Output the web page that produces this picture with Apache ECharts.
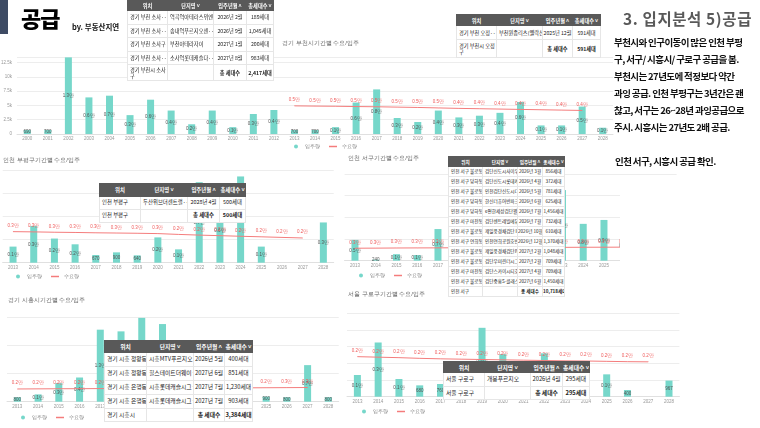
<!DOCTYPE html>
<html>
<head>
<meta charset="utf-8">
<title>공급</title>
<script src="https://cdn.jsdelivr.net/npm/echarts@6/dist/echarts.min.js"></script>
<style>
  body { margin: 0; width: 760px; height: 428px; overflow: hidden; background: #fff; position: relative;
         font-family: "Noto Sans CJK KR", sans-serif; }
  #chart { position: absolute; left: 0; top: 0; width: 760px; height: 428px; }
  .abs { position: absolute; white-space: nowrap; }
  table.t { position: absolute; border-collapse: collapse; table-layout: fixed; background: #fff; color: #222; }
  table.t th { background: #595959; color: #fff; font-weight: bold; padding: 0; text-align: center;
               border: 1px solid #595959; white-space: nowrap; overflow: hidden; }
  table.t td { border: 1px solid #e6e6e6; padding: 0 0 0 2px; white-space: nowrap; overflow: hidden; line-height: 1.1; }
  table.t td.c { text-align: center; padding: 0; }
  table.t tr.tot td.b { font-weight: bold; }
  table.t tr.tot td.w { white-space: normal; }
  .line { position: absolute; left: 614px; font-size: 9.5px; font-weight: bold; color: #111; letter-spacing: -0.6px; white-space: nowrap; }
</style>
</head>
<body>
<div id="chart"></div>

<div class="abs" style="left:0;top:0;width:8px;height:34px;background:#3e4b64;"></div>
<div class="abs" style="left:21px;top:2px;font-size:22px;font-weight:900;line-height:30px;letter-spacing:-1px;color:#000;">공급</div>
<div class="abs" style="left:72px;top:22px;font-size:7.5px;font-weight:bold;line-height:10px;color:#111;">by. 부동산지연</div>

<div class="abs" style="left:620px;top:175px;width:140px;height:118px;background:#fff;"></div>
<div class="abs" style="right:8px;top:7px;font-size:15.5px;font-weight:bold;line-height:22px;letter-spacing:0.6px;color:#595959;">3. 입지분석 5)공급</div>
<div class="line" style="top:35px;">부천시와 인구이동이 많은 인천 부평</div>
<div class="line" style="top:52px;">구, 서구/ 시흥시/ 구로구 공급을 봄.</div>
<div class="line" style="top:69px;">부천시는 27년도에 적정보다 약간</div>
<div class="line" style="top:86px;">과잉 공급. 인천 부평구는 3년간은 괜</div>
<div class="line" style="top:103px;">찮고, 서구는 26~28년 과잉공급으로</div>
<div class="line" style="top:120px;">주시. 시흥시는 27년도 2배 공급.</div>
<div class="line" style="top:154px;left:615px;">인천 서구, 시흥시 공급 확인.</div>

<script type="text/javascript">
// 연도 (x축)
var yearsLong = ['2000','2001','2002','2003','2004','2005','2006','2007','2008','2009','2010','2011','2012','2013','2014',
                 '2015','2016','2017','2018','2019','2020','2021','2022','2023','2024','2025','2026','2027','2028'];
var yearsShort = ['2013','2014','2015','2016','2017','2018','2019','2020','2021','2022','2023','2024','2025','2026','2027','2028'];

// 경기 부천시 입주량 / 수요량 (세대)
var bucheonSupply = [690, 700, 13400, 6400, 6700, 3300, 6000, 4100, 1700, 4100, 1200, 3500, 4200, 700, 700,
                     1200, 5500, 7800, 2800, 2100, 4100, 2900, 3200, 3700, 5600, 1500, 1500, 4800, 1100];
var bucheonDemand = [null, null, null, null, null, null, null, null, null, null, null, null, null, 4920, 4880,
                     4850, 4800, 4760, 4700, 4640, 4560, 4480, 4420, 4360, 4300, 4240, 4180, 4120, null];

// 인천 부평구
var bupyeongSupply = [1400, 3200, 2100, 1600, 670, 900, 640, 2200, 1160, 7000, 5500, 7500, 1400, 0, 0, 3500];
var bupyeongDemand = [2700, 2680, 2650, 2630, 2600, 2580, 2560, 2530, 2460, 2400, 2350, 2300, 2250, 2200, 2150, null];

// 인천 서구
var seoguSupply = [4800, 240, 1500, 1300, 7300, 3000, 2500, 5000, 9000, 11000, 16300, 8500, 9400, 6800, 3900, 2000];
var seoguDemand = [2880, 2900, 2930, 2950, 2960, 2990, 3010, 3020, 3050, 3060, 3080, 3100, 3110, 3130, 3150, null];

// 경기 시흥시
var siheungSupply = [800, 1300, 3300, 4300, 12800, 12500, 14900, 13800, 5000, 3000, 2000, 3000, 900, 800, 6500, 800];
var siheungDemand = [2260, 2280, 2300, 2310, 2330, 2350, 2370, 2390, 2400, 2420, 2440, 2460, 2480, 2500, 2520, null];

// 서울 구로구
var guroSupply = [1300, 3250, 1060, 680, 760, 1000, 4130, 2550, 600, 2600, 300, 0, 1340, 400, 0, 967];
var guroDemand = [2400, 2370, 2340, 2300, 2270, 2250, 2230, 2210, 2190, 2170, 2150, 2140, 2120, 2100, 2090, null];

// 분양 단지 표
var tableHead = ['위치', '단지명 ˅', '입주년월 ˄', '총세대수 ˅'];
var sosaRows = [
  ['경기 부천 소사···', '역곡역아테라스위엔', '2026년 2월', '189세대'],
  ['경기 부천 소사···', '송내역푸르지오센···', '2026년 9월', '1,045세대'],
  ['경기 부천 소사구', '부천아테라자이', '2027년 1월', '200세대'],
  ['경기 부천 소사···', '소사역롯데캐슬다···', '2027년 8월', '983세대'],
  ['경기 부천시 소사구', '', '총 세대수', '2,417세대']
];
var ojeongRows = [
  ['경기 부천 오정···', '부천원종리츠(웰락신···', '2025년 12월', '591세대'],
  ['경기 부천시 오정구', '', '총 세대수', '591세대']
];
var bupyeongRows = [
  ['인천 부평구', '두산위브더센트럴···', '2028년 4월', '500세대'],
  ['인천 부평구', '', '총 세대수', '500세대']
];
var seoguRows = [
  ['인천 서구 불로동', '검단신도시사이우···', '2026년 3월', '856세대'],
  ['인천 서구 당하동', '검단신도시롯데캐···', '2026년 4월', '372세대'],
  ['인천 서구 불로동', '인천검단신도시디···', '2026년 5월', '781세대'],
  ['인천 서구 당하동', '한신더휴어반파크', '2026년 6월', '625세대'],
  ['인천 서구 당하동', 'e편한세상검단웰카···', '2026년 7월', '1,456세대'],
  ['인천 서구 마전동', '검단센트레빌에듀시···', '2026년 7월', '732세대'],
  ['인천 서구 불로동', '제일풍경채검단Ⅱ', '2026년 10월', '610세대'],
  ['인천 서구 연희동', '인천연희공원호반···', '2026년 12월', '1,370세대'],
  ['인천 서구 불로동', '제일풍경채검단Ⅳ', '2027년 2월', '1,048세대'],
  ['인천 서구 불로동', '검단우미린더시그···', '2027년 2월', '709세대'],
  ['인천 서구 마전동', '검단스카이시티호···', '2027년 4월', '709세대'],
  ['인천 서구 불로동', '검단중흥S-클래스···', '2027년 6월', '1,450세대'],
  ['인천 서구', '', '총 세대수', '10,718세대']
];
var siheungRows = [
  ['경기 시흥 정왕동', '시흥MTV푸르지오···', '2026년 5월', '400세대'],
  ['경기 시흥 정왕동', '힐스테이트더웨이···', '2027년 6월', '851세대'],
  ['경기 시흥 은행동', '시흥롯데캐슬시그···', '2027년 7월', '1,230세대'],
  ['경기 시흥 은행동', '시흥롯데캐슬시그···', '2027년 7월', '903세대'],
  ['경기 시흥시', '', '총 세대수', '3,384세대']
];
var guroRows = [
  ['서울 구로구', '개봉푸르지오', '2026년 4월', '295세대'],
  ['서울 구로구', '', '총 세대수', '295세대']
];

function makeTable(rows, box) {
  var t = document.createElement('table');
  t.className = 't';
  t.style.left = box.left + 'px';
  t.style.top = box.top + 'px';
  t.style.fontSize = box.fs + 'px';
  var total = 0;
  box.widths.forEach(function (w) { total += w; });
  t.style.width = total + 'px';
  var html = '<colgroup>' + box.widths.map(function (w) { return '<col style="width:' + w + 'px">'; }).join('') + '</colgroup>';
  html += '<tr style="height:' + box.headH + 'px">' + tableHead.map(function (h) { return '<th>' + h + '</th>'; }).join('') + '</tr>';
  rows.forEach(function (r, i) {
    var last = i === rows.length - 1;
    var h = last ? box.lastH : box.rowH;
    html += '<tr class="' + (last ? 'tot' : '') + '" style="height:' + h + 'px">' +
      '<td class="w">' + r[0] + '</td><td>' + r[1] + '</td><td class="c b">' + r[2] + '</td><td class="c b">' + r[3] + '</td></tr>';
  });
  t.innerHTML = html;
  document.body.appendChild(t);
}

makeTable(sosaRows, { left: 127, top: 0, widths: [40, 46, 33, 27], headH: 10, rowH: 13.5, lastH: 16, fs: 5.2 });
makeTable(ojeongRows, { left: 456, top: 14, widths: [40, 46, 30, 28], headH: 11, rowH: 14, lastH: 18, fs: 5.2 });
makeTable(bupyeongRows, { left: 99, top: 183, widths: [41, 47, 32, 26], headH: 13, rowH: 13, lastH: 13, fs: 5.4 });
makeTable(seoguRows, { left: 448, top: 156, widths: [34, 35, 25, 22], headH: 10, rowH: 10, lastH: 10, fs: 4.6 });
makeTable(siheungRows, { left: 104, top: 340, widths: [42, 47, 31, 28], headH: 12, rowH: 14, lastH: 13, fs: 5.8 });
makeTable(guroRows, { left: 443, top: 361, widths: [41, 46, 32, 27], headH: 11, rowH: 14, lastH: 13, fs: 5.8 });

// 차트
var panels = [
  { title: '경기 부천시기간별 수요/입주', years: yearsLong, supply: bucheonSupply, demand: bucheonDemand,
    grid: [17, 56.8, 596, 77.2], titlePos: [282, 40], legendPos: [294, 144], max: 13500, step: 2500, showY: true },
  { title: '인천 부평구기간별 수요/입주', years: yearsShort, supply: bupyeongSupply, demand: bupyeongDemand,
    grid: [2.7, 170.7, 331, 92], titlePos: [3, 157], legendPos: [16, 274], max: 8000, step: 2000 },
  { title: '인천 서구기간별 수요/입주', years: yearsShort, supply: seoguSupply, demand: seoguDemand,
    grid: [344.6, 174, 332, 86.7], titlePos: [348, 155.5], legendPos: [359, 273], max: 20000, step: 5000 },
  { title: '경기 시흥시기간별 수요/입주', years: yearsShort, supply: siheungSupply, demand: siheungDemand,
    grid: [7, 317.3, 331.7, 84.4], titlePos: [8, 297], legendPos: [21, 415], max: 15000, step: 5000 },
  { title: '서울 구로구기간별 수요/입주', years: yearsShort, supply: guroSupply, demand: guroDemand,
    grid: [347, 313.3, 332.4, 83.4], titlePos: [348, 291.5], legendPos: [362, 409], max: 5000, step: 1000 }
];

function supplyLabel(p) {
  var v = p.value;
  if (!v) return '';
  return v >= 1000 ? (v / 10000).toFixed(1) + '만' : String(v);
}
function demandLabel(p) {
  return (p.value / 10000).toFixed(1) + '만';
}

var option = { animation: false, title: [], grid: [], xAxis: [], yAxis: [], legend: [], series: [] };

panels.forEach(function (p, i) {
  option.title.push({
    text: p.title, left: p.titlePos[0], top: p.titlePos[1], padding: 0,
    textStyle: { fontSize: 6, fontWeight: 'normal', color: '#666' }
  });
  option.grid.push({ left: p.grid[0], top: p.grid[1], width: p.grid[2], height: p.grid[3], outerBoundsMode: 'none' });
  option.xAxis.push({
    type: 'category', gridIndex: i, data: p.years,
    axisTick: { show: false },
    axisLine: { lineStyle: { color: '#e0e0e0' } },
    axisLabel: { fontSize: 4.5, color: '#999', margin: 2.5, interval: 0 }
  });
  option.yAxis.push({
    type: 'value', gridIndex: i, min: 0, max: p.max, interval: p.step,
    splitLine: { lineStyle: { color: '#ededed' } },
    axisLabel: {
      show: !!p.showY, showMaxLabel: false, fontSize: 4.5, color: '#999', margin: 5,
      formatter: function (v) { return v === 0 ? '0' : (v / 1000) + 'k'; }
    }
  });
  option.legend.push({
    left: p.legendPos[0], top: p.legendPos[1], padding: 0, itemWidth: 8, itemHeight: 4, itemGap: 9,
    textStyle: { fontSize: 4.5, color: '#777' },
    data: [
      { name: '입주량', icon: 'circle' },
      { name: '수요량', icon: 'path://M0,0H16V3H0Z', itemStyle: { color: '#f47c7c' }, lineStyle: { color: '#f47c7c', width: 1.5 } }
    ]
  });
  option.series.push({
    name: '입주량', type: 'bar', xAxisIndex: i, yAxisIndex: i, data: p.supply, barWidth: 7,
    itemStyle: { color: '#76d7ca' },
    label: { show: true, position: 'inside', fontSize: 4.5, color: '#555', formatter: supplyLabel }
  });
  option.series.push({
    name: '수요량', type: 'line', xAxisIndex: i, yAxisIndex: i, data: p.demand,
    symbol: 'circle', symbolSize: 0.5, itemStyle: { color: '#f47c7c' },
    lineStyle: { color: '#f47c7c', width: 1 },
    label: { show: true, position: 'top', distance: 3, fontSize: 4.5, color: '#ef5a5a', formatter: demandLabel }
  });
});

var myChart = echarts.init(document.getElementById('chart'));
myChart.setOption(option);
</script>
</body>
</html>
